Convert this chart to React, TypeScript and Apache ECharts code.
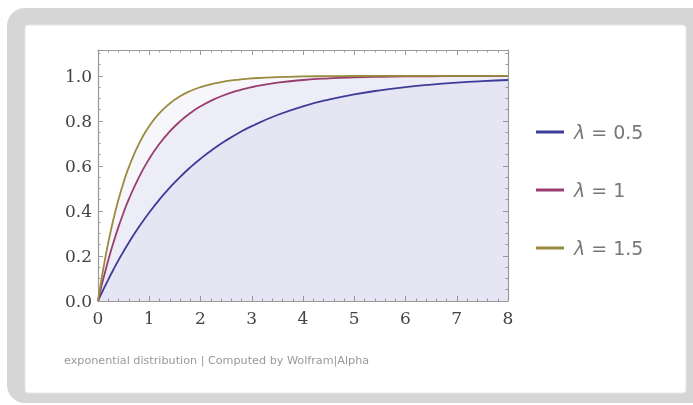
import React, { useEffect, useRef } from "react";
import * as echarts from "echarts";

// x sample points (shared by the three curves)
const xs = [0, 0.05, 0.1, 0.2, 0.3, 0.4, 0.5, 0.6, 0.8, 1.0, 1.2, 1.4, 1.6, 1.8, 2.0, 2.25, 2.5, 2.75, 3, 3.5, 4, 4.5, 5, 5.5, 6, 6.5, 7, 7.5, 8];

// values (exponential distribution CDF curves)
const yLambda05 = [0, 0.0247, 0.0488, 0.0952, 0.1393, 0.1813, 0.2212, 0.2592, 0.3297, 0.3935, 0.4512, 0.5034, 0.5507, 0.5934, 0.6321, 0.6753, 0.7135, 0.7472, 0.7769, 0.8262, 0.8647, 0.8946, 0.9179, 0.9361, 0.9502, 0.9612, 0.9698, 0.9765, 0.9817];
const yLambda1 = [0, 0.0488, 0.0952, 0.1813, 0.2592, 0.3297, 0.3935, 0.4512, 0.5507, 0.6321, 0.6988, 0.7534, 0.7981, 0.8347, 0.8647, 0.8946, 0.9179, 0.9361, 0.9502, 0.9698, 0.9817, 0.9889, 0.9933, 0.9959, 0.9975, 0.9985, 0.9991, 0.9994, 0.9997];
const yLambda15 = [0, 0.0723, 0.1393, 0.2592, 0.3624, 0.4512, 0.5276, 0.5934, 0.6988, 0.7769, 0.8347, 0.8775, 0.9093, 0.9328, 0.9502, 0.9658, 0.9765, 0.9838, 0.9889, 0.9948, 0.9975, 0.9988, 0.9994, 0.9997, 0.9999, 0.9999, 1.0, 1.0, 1.0];

const seriesNames = ["λ = 0.5", "λ = 1", "λ = 1.5"];
const seriesValues = [yLambda05, yLambda1, yLambda15];
const seriesColors = ["#3d3d99", "#993d71", "#998b3d"];

const xTicks = { min: 0, max: 8, interval: 1 };
const yTicks = { min: 0, max: 1.115, interval: 0.2 };

const footerText = "exponential distribution | Computed by Wolfram|Alpha";

export default function App() {
  const ref = useRef<HTMLDivElement>(null);

  useEffect(() => {
    if (!ref.current) return;
    const chart = echarts.init(ref.current, null, { renderer: "svg" });

    const frameColor = "#9a9a9a";
    const labelStyle = {
      fontFamily: "DejaVu Serif",
      fontSize: 17,
      color: "#444",
    };

    const mkX = (pos: "bottom" | "top", showLabel: boolean) => ({
      type: "value",
      position: pos,
      min: xTicks.min,
      max: xTicks.max,
      interval: xTicks.interval,
      axisLine: { show: true, onZero: false, lineStyle: { color: frameColor, width: 1.2 } },
      axisTick: { show: true, inside: true, length: 5, lineStyle: { color: frameColor } },
      minorTick: { show: true, splitNumber: 5, length: 2.5, lineStyle: { color: frameColor } },
      splitLine: { show: false },
      axisLabel: { show: showLabel, margin: 8, ...labelStyle, formatter: (v: number) => String(v) },
    });
    const mkY = (pos: "left" | "right", showLabel: boolean) => ({
      type: "value",
      position: pos,
      min: yTicks.min,
      max: yTicks.max,
      interval: yTicks.interval,
      axisLine: { show: true, onZero: false, lineStyle: { color: frameColor, width: 1.2 } },
      axisTick: { show: true, inside: true, length: 5, lineStyle: { color: frameColor } },
      minorTick: { show: true, splitNumber: 4, length: 2.5, lineStyle: { color: frameColor } },
      splitLine: { show: false },
      axisLabel: {
        show: showLabel,
        margin: 6,
        showMaxLabel: false,
        ...labelStyle,
        formatter: (v: number) => v.toFixed(1),
      },
    });

    const areaSeries = seriesValues.map((vals, i) => ({
      type: "line",
      name: "area" + i,
      data: xs.map((x, j) => [x, vals[j]]),
      showSymbol: false,
      smooth: 0.5,
      lineStyle: { width: 0 },
      areaStyle: { color: "rgba(140,145,200,0.11)", origin: "start" },
      z: 1,
      silent: true,
    }));
    const lineSeries = seriesValues.map((vals, i) => ({
      type: "line",
      name: seriesNames[i],
      data: xs.map((x, j) => [x, vals[j]]),
      showSymbol: false,
      smooth: 0.5,
      color: seriesColors[i],
      lineStyle: { width: 1.8, color: seriesColors[i] },
      z: 3,
    }));

    chart.setOption({
      animation: false,
      backgroundColor: "transparent",
      grid: { left: 98, right: 185, top: 50, bottom: 104, containLabel: false },
      xAxis: [mkX("bottom", true), mkX("top", false)],
      yAxis: [mkY("left", true), mkY("right", false)],
      legend: {
        orient: "vertical",
        left: 531,
        top: 117,
        itemGap: 38,
        itemWidth: 28,
        itemHeight: 3,
        icon: "rect",
        data: seriesNames,
        formatter: (name: string) => name.replace("λ", "{i|λ}"),
        textStyle: {
          fontFamily: "DejaVu Sans",
          fontSize: 19,
          lineHeight: 20,
          color: "#777",
          padding: [0, 0, 0, 5],
          rich: {
            i: { fontFamily: "DejaVu Sans", fontSize: 19, fontStyle: "italic", color: "#777" },
          },
        },
      },
      graphic: [
        {
          type: "rect",
          z: -10,
          shape: { x: 7, y: 8, width: 710, height: 395, r: 18 },
          style: { fill: "#d6d6d6" },
          silent: true,
        },
        {
          type: "rect",
          z: -9,
          shape: { x: 25, y: 25, width: 661, height: 368, r: 3 },
          style: { fill: "#ffffff", stroke: "#e6e6e6", lineWidth: 1 },
          silent: true,
        },
        {
          type: "text",
          z: 5,
          x: 64,
          y: 360,
          style: {
            text: footerText,
            fontFamily: "DejaVu Sans",
            fontSize: 11.2,
            fill: "#999",
            textVerticalAlign: "middle",
            verticalAlign: "middle",
          },
          silent: true,
        },
      ],
      series: [...areaSeries, ...lineSeries],
    });

    return () => chart.dispose();
  }, []);

  return (
    <div
      ref={ref}
      style={{ position: "fixed", left: 0, top: 0, width: 693, height: 405 }}
    />
  );
}
